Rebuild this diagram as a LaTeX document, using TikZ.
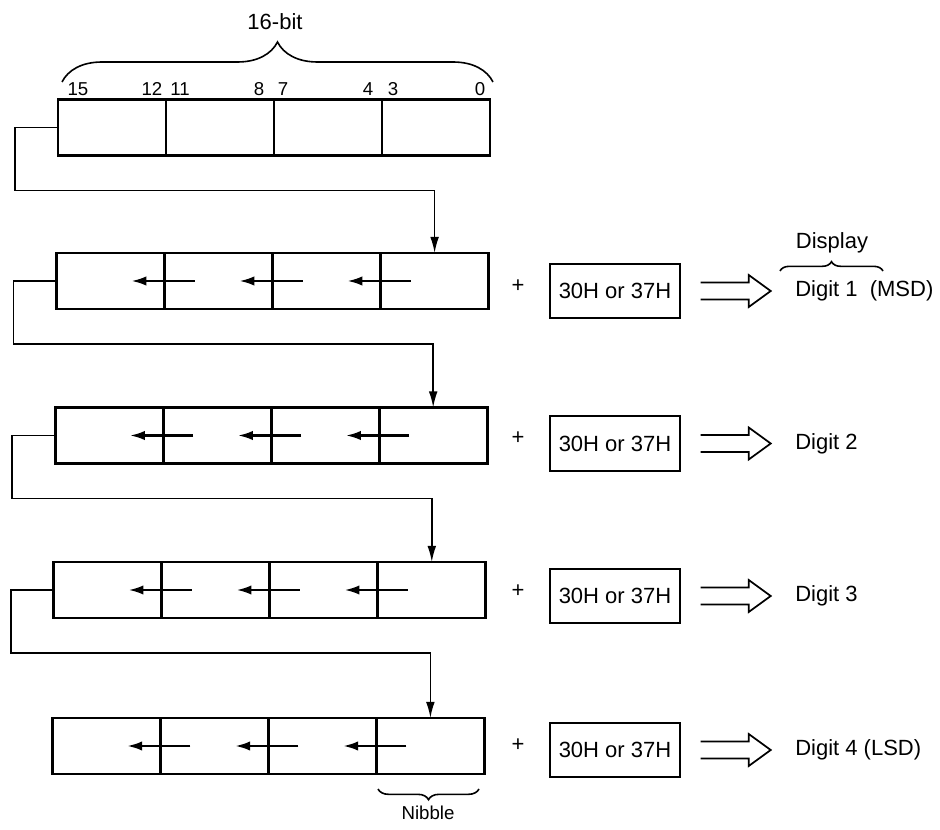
\documentclass[tikz,border=0pt]{standalone}
\usepackage{fontspec}
\setmainfont{Liberation Sans}
\usetikzlibrary{calc,decorations.pathreplacing,arrows.meta}
\begin{document}
\begin{tikzpicture}[x=0.75pt,y=-0.75pt,
  cell/.style={draw,line width=2.1pt,minimum width=81pt,minimum height=42pt,inner sep=0pt,outer sep=0pt},
  shiftarr/.style={line width=1.6pt,-{Latex[length=11pt,width=7pt]}},
  downarr/.style={line width=1.2pt,-{Latex[length=12pt,width=6.5pt]}},
  addbox/.style={draw,line width=1.6pt,minimum width=97pt,minimum height=41pt,inner sep=0pt,font=\fontsize{16.5}{18}\selectfont},
  bigtxt/.style={inner sep=0pt,font=\fontsize{16.5}{18}\selectfont},
  bitlbl/.style={inner sep=0pt,font=\fontsize{14}{16}\selectfont},
  dblarr/.style={line width=1.3pt},
  bracestyle/.style={line width=1.2pt,decorate}
]
\useasboundingbox (0,0) rectangle (940,830);

% registers
\foreach \k/\yc in {0/127.5,1/281,2/435.5,3/590,4/746} {
  \foreach \j in {1,...,4} {
    \node[cell] (r\k-\j) at ({58-1.4*\k+108*(\j-0.5)},\yc) {};
  }
}

% loop connectors
\foreach \k/\yc in {0/127.5,1/281,2/435.5,3/590} {
  \pgfmathtruncatemacro\kk{\k+1}
  \coordinate (b\k) at ({15-1.4*\k},\yc+63);
  \draw[downarr] (r\k-1.west) -| (b\k) -| (r\kk-4.north);
}

% shift arrows
\foreach \k in {1,...,4} {
  \foreach \j in {2,3,4} {
    \draw[shiftarr] ($(r\k-\j.west)+(30,0)$) -- ($(r\k-\j.west)+(-33,0)$);
  }
}

% right side
\foreach \k/\yc/\o/\txt in {1/281/10/{Digit 1\ \ (MSD)},2/435.5/8/{Digit 2},3/590/6/{Digit 3},4/746/4/{Digit 4 (LSD)}} {
  \node[bigtxt] (plus\k) at (518,\yc+\o-5) {+};
  \node[addbox] (add\k) at (615,\yc+\o) {30H or 37H};
  \draw[dblarr] ($(add\k.east)+(20,-8.5)$) -- ++(48,0) -- ++(0,-7.5) -- ++(22,16) -- ++(-22,16) -- ++(0,-7.5) -- ++(-48,0);
  \node[bigtxt,anchor=west] (dig\k) at (795,\yc+\o) {\txt};
}

% top brace and labels
\draw[bracestyle,decoration={brace,amplitude=30pt}] (62,82) -- (493,82);
\node[bigtxt] (sixteen) at (275,22) {16-bit};
\foreach \x/\t in {78/15,152/12,180/11,259/8,283/7,368/4,393/3,480/0} {
  \node[bitlbl] (bit\t) at (\x,89) {\t};
}

% display brace
\draw[bracestyle,decoration={brace,amplitude=7pt}] (780,271) -- (883,271);
\node[bigtxt] (disp) at (832,243) {Display};

% nibble brace
\draw[bracestyle,decoration={brace,amplitude=8pt}] (479,789) -- (378,789);
\node[bitlbl] (nib) at (428,813) {Nibble};
\end{tikzpicture}
\end{document}
